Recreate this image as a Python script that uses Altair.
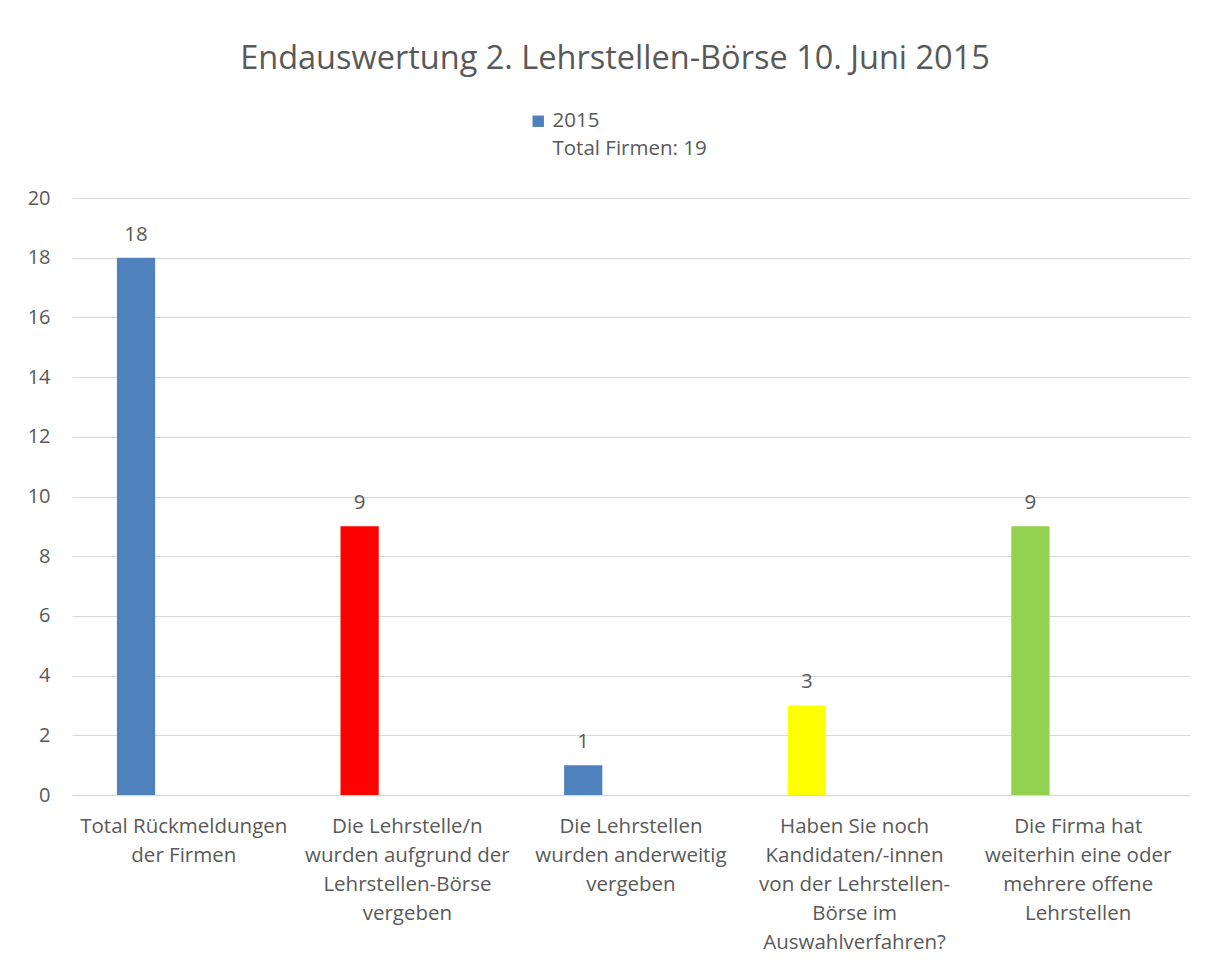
import altair as alt
import pandas as pd

categories = [
    "Total Rückmeldungen|der Firmen",
    "Die Lehrstelle/n|wurden aufgrund der|Lehrstellen-Börse|vergeben",
    "Die Lehrstellen|wurden anderweitig|vergeben",
    "Haben Sie noch|Kandidaten/-innen|von der Lehrstellen-|Börse im|Auswahlverfahren?",
    "Die Firma hat|weiterhin eine oder|mehrere offene|Lehrstellen",
]
values_2015 = [18, 9, 1, 3, 9]
bar_keys = ["2015", "rot", "2015", "gelb", "grün"]
series = ["2015", "Total Firmen: 19"]

key_domain = ["2015", "Total Firmen: 19", "rot", "gelb", "grün"]
key_range = ["#4F81BD", "transparent", "#FF0000", "#FFFF00", "#92D050"]

rows = []
for c, v, k in zip(categories, values_2015, bar_keys):
    rows.append({"cat": c, "series": series[0], "value": v, "key": k})
    rows.append({"cat": c, "series": series[1], "value": None, "key": series[1]})
df = pd.DataFrame(rows)

FONT = "Open Sans"
TXT = "#595959"

x_enc = alt.X("cat:N", sort=categories, scale=alt.Scale(paddingInner=0, paddingOuter=0),
              axis=alt.Axis(title=None, labelAngle=0, labelExpr="split(datum.label, '|')",
                            labelFontSize=20.5, labelColor=TXT, labelFont=FONT, labelLineHeight=29,
                            labelPadding=21, ticks=False, domain=True, domainColor="#D9D9D9",
                            domainWidth=1.5, labelLimit=300, labelBaseline="top"))
xo_enc = alt.XOffset("series:N", sort=series,
                     scale=alt.Scale(domain=series, paddingInner=0.6, paddingOuter=0.47))

base = alt.Chart(df)

bars = base.mark_bar().encode(
    x=x_enc,
    xOffset=xo_enc,
    y=alt.Y("value:Q", scale=alt.Scale(domain=[0, 20]),
            axis=alt.Axis(title=None, values=list(range(0, 21, 2)), grid=True,
                          gridColor="#D9D9D9", gridWidth=1.2, domain=False, ticks=False,
                          labelFontSize=20, labelColor=TXT, labelFont=FONT, labelPadding=22)),
    color=alt.Color("key:N", scale=alt.Scale(domain=key_domain, range=key_range),
                    legend=alt.Legend(title=None, values=series, orient="none",
                                      legendX=456, legendY=-87, direction="vertical",
                                      symbolType="square", symbolSize=130,
                                      symbolStrokeWidth=0, labelFontSize=20.5,
                                      labelColor=TXT, labelFont=FONT, rowPadding=7,
                                      labelOffset=4)),
)

labels = base.transform_filter("datum.value != null").mark_text(
    dy=-17, fontSize=20.5, color=TXT, font=FONT, baseline="alphabetic"
).encode(
    x=alt.X("cat:N", sort=categories),
    xOffset=xo_enc,
    y="value:Q",
    text="value:Q",
)

chart = (bars + labels).properties(
    width=1118,
    height=597,
    background="white",
    autosize=alt.AutoSizeParams(type="none"),
    padding={"left": 64, "top": 190, "right": 10, "bottom": 165},
    title=alt.TitleParams("Endauswertung 2. Lehrstellen-Börse 10. Juni 2015", fontSize=32.5,
                          font=FONT, fontWeight="normal", color=TXT,
                          anchor="middle", offset=36, dx=-16),
).configure_view(stroke=None)

chart.save("out.html", embed_options={"renderer": "svg", "actions": False})
